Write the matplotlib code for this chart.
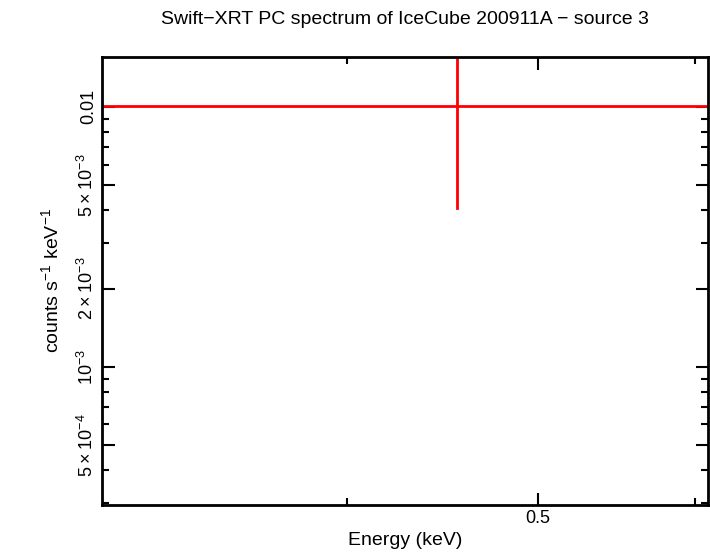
import matplotlib
matplotlib.use("Agg")
import matplotlib.pyplot as plt
from matplotlib.ticker import FixedLocator, NullFormatter, LogLocator

plt.rcParams['font.family'] = 'Liberation Sans'
plt.rcParams['mathtext.fontset'] = 'custom'
plt.rcParams['mathtext.rm'] = 'Liberation Sans'

energy = [0.455]
energy_lo = [0.25]
energy_hi = [0.75]
rate = [0.0101]
rate_lo = [0.00409]
rate_hi = [0.03]

ytick_vals = [5e-4, 1e-3, 2e-3, 5e-3, 1e-2]
ytick_labels = [r'$5\times10^{-4}$', r'$10^{-3}$', r'$2\times10^{-3}$', r'$5\times10^{-3}$', '0.01']
xtick_vals = [0.5]
xtick_labels = ['0.5']

fig = plt.figure(figsize=(7.10, 5.56), dpi=100)
ax = fig.add_axes([102/710, 1-505/556, 606/710, 448/556])
for e, elo, ehi, r, rlo, rhi in zip(energy, energy_lo, energy_hi, rate, rate_lo, rate_hi):
    ax.plot([elo, ehi], [r, r], color='red', lw=2)
    ax.plot([e, e], [rlo, rhi], color='red', lw=2)
ax.set_xscale('log'); ax.set_yscale('log')
ax.set_xlim(0.3008, 0.6095)
ax.set_ylim(2.94e-4, 0.01556)
ax.xaxis.set_major_locator(FixedLocator(xtick_vals))
ax.set_xticklabels(xtick_labels)
ax.xaxis.set_minor_locator(FixedLocator([0.4, 0.6]))
ax.xaxis.set_minor_formatter(NullFormatter())
ax.yaxis.set_major_locator(FixedLocator(ytick_vals))
ax.set_yticklabels(ytick_labels, rotation=90, va='center')
ax.yaxis.set_minor_locator(LogLocator(base=10, subs=range(1, 10), numticks=20))
ax.yaxis.set_minor_formatter(NullFormatter())
ax.tick_params(which='both', direction='in', top=True, right=True, width=1.5, labelsize=13, colors='black')
ax.tick_params(which='major', length=9)
ax.tick_params(which='minor', length=5)
for s in ax.spines.values():
    s.set_linewidth(2)
ax.set_xlabel('Energy (keV)', fontsize=14, labelpad=4)
ax.set_ylabel(r'counts s$^{-1}$ keV$^{-1}$', fontsize=14, labelpad=10)
ax.set_title('Swift\u2212XRT PC spectrum of IceCube 200911A \u2212 source 3', fontsize=14, pad=24)
fig.savefig('out.png', dpi=100)
